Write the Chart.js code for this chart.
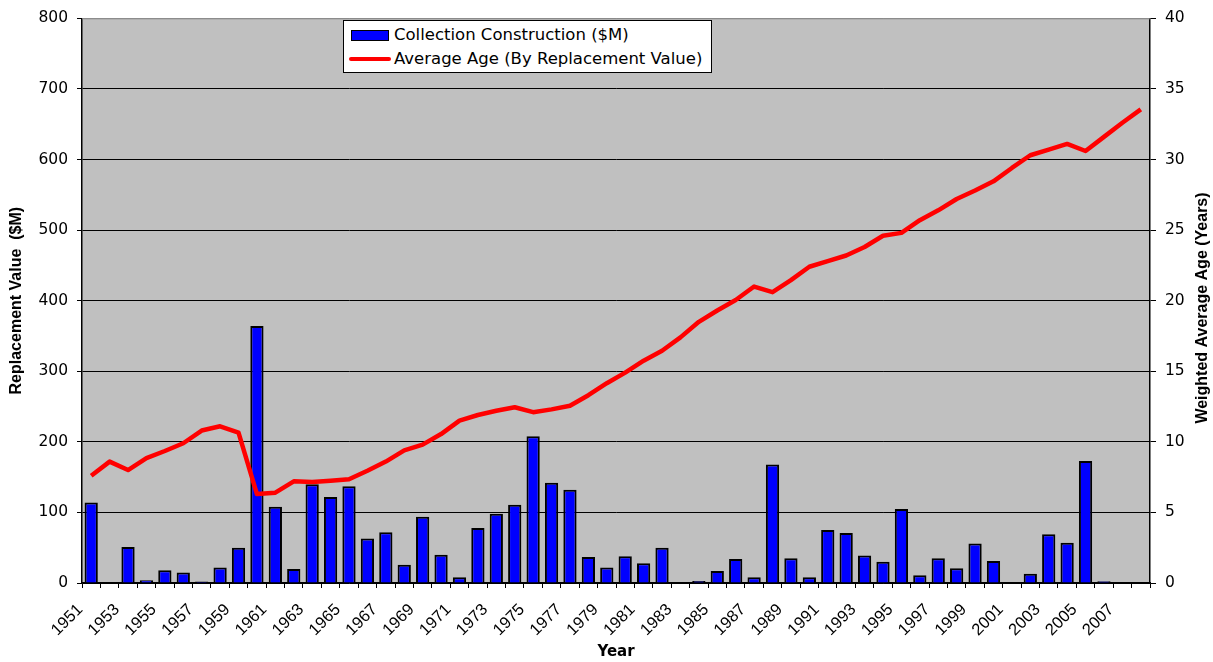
<!DOCTYPE html>
<html>
<head>
<meta charset="utf-8">
<script src="https://cdn.jsdelivr.net/npm/chart.js@4.4.1/dist/chart.umd.min.js"></script>
<style>
  body { margin: 0; background: #fff; }
  #wrap { position: relative; width: 1213px; height: 662px; }
  #leyenda {
    position: absolute; left: 343px; top: 20px; width: 367px; height: 51px;
    background: #fff; border: 1px solid #000;
    font-family: "DejaVu Sans", sans-serif; font-size: 16.5px; color: #000;
  }
  .fila { position: absolute; left: 0; height: 20px; line-height: 20px; white-space: nowrap; }
  .caja { position: absolute; left: 7px; top: 5px; width: 36px; height: 9px; background: #0000ff; border: 1.5px solid #000; }
  .linea { position: absolute; left: 5px; top: 8px; width: 42px; height: 4px; background: #ff0000; border-radius: 2px; }
  .txt { position: absolute; left: 50px; top: 0; }
</style>
</head>
<body>
<div id="wrap">
  <canvas id="grafico" width="1213" height="662"></canvas>
  <div id="leyenda">
    <div class="fila" style="top:4px"><span class="caja"></span><span class="txt">Collection Construction ($M)</span></div>
    <div class="fila" style="top:28px"><span class="linea"></span><span class="txt">Average Age (By Replacement Value)</span></div>
  </div>
</div>
<script>
// DATOS:
const anios = ['1951','1952','1953','1954','1955','1956','1957','1958','1959','1960',
  '1961','1962','1963','1964','1965','1966','1967','1968','1969','1970',
  '1971','1972','1973','1974','1975','1976','1977','1978','1979','1980',
  '1981','1982','1983','1984','1985','1986','1987','1988','1989','1990',
  '1991','1992','1993','1994','1995','1996','1997','1998','1999','2000',
  '2001','2002','2003','2004','2005','2006','2007','2008'];

const construccion = [114, 0.5, 51, 4, 18, 15, 2, 22, 50, 364,
  108, 20, 140, 122, 137, 63, 72, 26, 94, 40,
  8, 78, 98, 111, 208, 142, 132, 37, 22, 38,
  28, 50, 0.5, 3, 17, 34, 8, 168, 35, 8,
  75, 71, 39, 30, 105, 11, 35, 21, 56, 31,
  1, 13, 69, 57, 173, 2.5, 0.5, 1];

const edadPromedio = [7.6, 8.6, 8.0, 8.85, 9.35, 9.9, 10.8, 11.1, 10.65, 6.3,
  6.4, 7.2, 7.15, 7.25, 7.35, 7.95, 8.6, 9.4, 9.8, 10.55,
  11.5, 11.9, 12.2, 12.45, 12.1, 12.3, 12.55, 13.3, 14.15, 14.9,
  15.75, 16.45, 17.4, 18.5, 19.3, 20.05, 21.0, 20.6, 21.45, 22.4,
  22.8, 23.2, 23.8, 24.6, 24.8, 25.7, 26.4, 27.2, 27.8, 28.45,
  29.4, 30.3, 30.7, 31.1, 30.6, 31.6, 32.6, 33.55];

const rangoIzq = { min: 0, max: 800, paso: 100 };
const rangoDer = { min: 0, max: 40, paso: 5 };

const tituloIzq = 'Replacement Value  ($M)';
const tituloDer = 'Weighted Average Age (Years)';
const tituloX = 'Year';

// fondo gris del area de trazado + titulo derecho
const fondoPlot = {
  id: 'fondoPlot',
  beforeDraw(chart) {
    const { ctx, chartArea: a } = chart;
    ctx.save();
    ctx.fillStyle = '#c0c0c0';
    ctx.fillRect(a.left, a.top, a.right - a.left, a.bottom - a.top);
    ctx.restore();
  },
  afterDraw(chart) {
    const ctx = chart.ctx;
    const a = chart.chartArea;
    ctx.save();
    ctx.strokeStyle = '#8c8c8c';
    ctx.lineWidth = 1;
    ctx.beginPath();
    ctx.moveTo(a.left, a.top + 0.5);
    ctx.lineTo(a.right, a.top + 0.5);
    ctx.stroke();
    ctx.translate(1203, 308);
    ctx.rotate(-Math.PI / 2);
    ctx.font = 'bold 16px "Liberation Sans", Arial, sans-serif';
    ctx.fillStyle = '#000';
    ctx.textAlign = 'center';
    ctx.textBaseline = 'middle';
    ctx.fillText(tituloDer, 0, 0);
    ctx.restore();
  }
};

const ctx = document.getElementById('grafico').getContext('2d');

new Chart(ctx, {
  data: {
    labels: anios,
    datasets: [
      {
        type: 'line',
        label: 'Average Age (By Replacement Value)',
        data: edadPromedio,
        yAxisID: 'y1',
        borderColor: '#ff0000',
        borderWidth: 4.5,
        pointRadius: 0,
        tension: 0,
        borderJoinStyle: 'round',
        order: 0
      },
      {
        type: 'bar',
        label: 'Collection Construction ($M)',
        data: construccion,
        yAxisID: 'y',
        backgroundColor: '#0000ff',
        borderColor: '#000000',
        borderWidth: 2,
        barPercentage: 0.72,
        categoryPercentage: 1.0,
        order: 1
      }
    ]
  },
  options: {
    responsive: false,
    animation: false,
    layout: { padding: { left: 0, right: 0, top: 14, bottom: 0 } },
    plugins: {
      legend: { display: false },
      tooltip: { enabled: false }
    },
    scales: {
      x: {
        afterFit: function(scale) { scale.height = 79; },
        grid: { drawOnChartArea: false, offset: true, color: '#000', tickLength: 5, lineWidth: 1 },
        border: { display: true, color: '#000', width: 1.5 },
        ticks: {
          autoSkip: false,
          minRotation: 45,
          maxRotation: 45,
          padding: 12,
          labelOffset: -11,
          color: '#000',
          font: { family: '"Liberation Sans", Arial, sans-serif', size: 16.5 },
          callback: function(valor, i) { return i % 2 === 0 ? anios[i] : ''; }
        },
        title: {
          display: true, text: tituloX, color: '#000',
          padding: { top: 0, bottom: 1 },
          font: { family: '"DejaVu Sans", sans-serif', size: 15, weight: 'bold' }
        }
      },
      y: {
        position: 'left',
        min: rangoIzq.min, max: rangoIzq.max,
        afterFit: function(scale) { scale.width = 82; },
        grid: {
          color: function(c) { return c.tick && c.tick.value === rangoIzq.max ? '#8c8c8c' : '#000'; },
          tickColor: '#000',
          tickLength: 5,
          lineWidth: 1
        },
        border: { display: true, color: '#000', width: 1.5 },
        ticks: {
          stepSize: rangoIzq.paso,
          padding: 9,
          color: '#000',
          font: { family: '"DejaVu Sans", sans-serif', size: 15.5 }
        },
        title: {
          display: true, text: tituloIzq, color: '#000',
          padding: { top: 7, bottom: 0 },
          font: { family: '"Liberation Sans", Arial, sans-serif', size: 16, weight: 'bold' }
        }
      },
      y1: {
        position: 'right',
        min: rangoDer.min, max: rangoDer.max,
        afterFit: function(scale) { scale.width = 63; },
        grid: { drawOnChartArea: false, color: '#000', tickLength: 6 },
        border: { display: true, color: '#000', width: 1.5 },
        ticks: {
          stepSize: rangoDer.paso,
          padding: 9,
          color: '#000',
          font: { family: '"DejaVu Sans", sans-serif', size: 15.5 }
        }
      }
    }
  },
  plugins: [fondoPlot]
});
</script>
</body>
</html>
